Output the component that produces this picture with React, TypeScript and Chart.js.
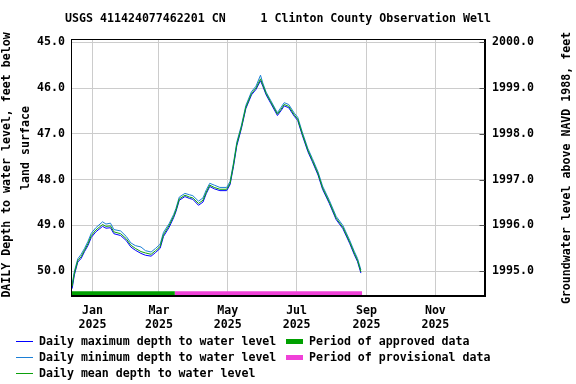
import React, { useEffect, useRef } from "react";
import { Chart, registerables } from "chart.js";

Chart.register(...registerables);

const TITLE = "USGS 411424077462201 CN     1 Clinton County Observation Well";
const LEFT_TITLE_1 = "DAILY Depth to water level, feet below";
const LEFT_TITLE_2 = "land surface";
const RIGHT_TITLE = "Groundwater level above NAVD 1988, feet";

const DATES = [
  "2024-12-14", "2024-12-16", "2024-12-19", "2024-12-22", "2024-12-25", "2024-12-28", "2024-12-31",
  "2025-01-04", "2025-01-10", "2025-01-13", "2025-01-17", "2025-01-20", "2025-01-26", "2025-01-31",
  "2025-02-04", "2025-02-08", "2025-02-13", "2025-02-17", "2025-02-22", "2025-02-26",
  "2025-03-02", "2025-03-05", "2025-03-10", "2025-03-14", "2025-03-16", "2025-03-19", "2025-03-24",
  "2025-03-28", "2025-03-31", "2025-04-05", "2025-04-09", "2025-04-12", "2025-04-15", "2025-04-19",
  "2025-04-24", "2025-04-30", "2025-05-03", "2025-05-06", "2025-05-09", "2025-05-13", "2025-05-17",
  "2025-05-22", "2025-05-26", "2025-05-30", "2025-06-01", "2025-06-04", "2025-06-08", "2025-06-14",
  "2025-06-17", "2025-06-20", "2025-06-24", "2025-06-29", "2025-07-02", "2025-07-06", "2025-07-11",
  "2025-07-15", "2025-07-20", "2025-07-24", "2025-07-30", "2025-08-05", "2025-08-11", "2025-08-17",
  "2025-08-21", "2025-08-24", "2025-08-27",
];

const MEAN_DEPTH = [
  50.33, 50.04, 49.77, 49.68, 49.54, 49.40, 49.22,
  49.10, 48.98, 49.02, 49.01, 49.14, 49.18, 49.29,
  49.43, 49.50, 49.57, 49.60, 49.63, 49.55,
  49.46, 49.20, 49.00, 48.80, 48.67, 48.42, 48.34,
  48.38, 48.40, 48.52, 48.45, 48.27, 48.12, 48.17,
  48.21, 48.21, 48.08, 47.68, 47.22, 46.86, 46.42,
  46.12, 46.00, 45.80, 45.93, 46.12, 46.30, 46.57,
  46.47, 46.36, 46.40, 46.59, 46.68, 47.00, 47.36,
  47.58, 47.87, 48.18, 48.49, 48.84, 49.04, 49.36,
  49.60, 49.76, 50.01,
];

const MAX_DEPTH = [
  50.38, 50.08, 49.80, 49.72, 49.57, 49.44, 49.26,
  49.14, 49.02, 49.06, 49.05, 49.18, 49.22, 49.33,
  49.47, 49.54, 49.61, 49.65, 49.67, 49.59,
  49.50, 49.24, 49.04, 48.83, 48.70, 48.45, 48.37,
  48.41, 48.43, 48.56, 48.49, 48.30, 48.15, 48.20,
  48.24, 48.24, 48.11, 47.72, 47.26, 46.89, 46.45,
  46.15, 46.03, 45.84, 45.96, 46.15, 46.33, 46.60,
  46.50, 46.39, 46.43, 46.62, 46.71, 47.03, 47.39,
  47.61, 47.90, 48.21, 48.52, 48.87, 49.07, 49.39,
  49.63, 49.79, 50.04,
];

const MIN_DEPTH = [
  50.28, 50.00, 49.73, 49.63, 49.50, 49.35, 49.17,
  49.05, 48.92, 48.97, 48.95, 49.09, 49.12, 49.24,
  49.38, 49.44, 49.47, 49.55, 49.58, 49.50,
  49.41, 49.15, 48.96, 48.76, 48.63, 48.38, 48.30,
  48.33, 48.35, 48.47, 48.40, 48.22, 48.08, 48.12,
  48.17, 48.17, 48.04, 47.64, 47.18, 46.82, 46.38,
  46.08, 45.96, 45.72, 45.89, 46.09, 46.27, 46.54,
  46.43, 46.32, 46.36, 46.55, 46.64, 46.96, 47.32,
  47.54, 47.83, 48.14, 48.45, 48.80, 49.00, 49.32,
  49.56, 49.72, 49.97,
];

const APPROVED_PERIOD = ["2024-12-13", "2025-03-15"];
const PROVISIONAL_PERIOD = ["2025-03-15", "2025-08-28"];
const PERIOD_DEPTH = 50.48;

const X_RANGE = ["2024-12-13", "2025-12-15"];
const X_TICK_DATES = ["2025-01-01", "2025-03-01", "2025-05-01", "2025-07-01", "2025-09-01", "2025-11-01"];
const X_TICK_LABELS = [
  ["Jan", "2025"], ["Mar", "2025"], ["May", "2025"], ["Jul", "2025"], ["Sep", "2025"], ["Nov", "2025"],
];
const DEPTH_RANGE = [44.93, 50.54];
const DEPTH_TICKS = [45, 46, 47, 48, 49, 50];
const ELEV_TICKS = [1995, 1996, 1997, 1998, 1999, 2000];
const DATUM = 2045; // elevation = DATUM - depth

const LEGEND_LINES = [
  { label: "Daily maximum depth to water level", color: "#0000ff" },
  { label: "Daily minimum depth to water level", color: "#1c7fd6" },
  { label: "Daily mean depth to water level", color: "#0ca00c" },
];
const LEGEND_PERIODS = [
  { label: "Period of approved data", color: "#00a000" },
  { label: "Period of provisional data", color: "#f041d8" },
];

const FONT = 'bold 11.6px "DejaVu Sans Mono"';
const BASE = Date.parse("2025-01-01T00:00:00Z");
const day = (s: string) => (Date.parse(s + "T00:00:00Z") - BASE) / 86400000;

const overlay = {
  id: "overlay",
  afterDraw(chart: any) {
    const { ctx, chartArea: a } = chart;
    ctx.save();
    ctx.strokeStyle = "#000";
    ctx.lineWidth = 1;
    const l = Math.round(a.left) + 0.5;
    const t = Math.round(a.top) + 0.5;
    const r = Math.round(a.right) - 0.5;
    const b = Math.round(a.bottom) - 0.5;
    ctx.strokeRect(l, t, r - l, b - t);

    // inner tick marks on right axis
    ctx.strokeStyle = "#555";
    const y2 = chart.scales.y2;
    ELEV_TICKS.forEach((v) => {
      const y = Math.round(y2.getPixelForValue(v)) + 0.5;
      ctx.beginPath();
      ctx.moveTo(r - 5, y);
      ctx.lineTo(r, y);
      ctx.stroke();
    });

    ctx.fillStyle = "#000";
    ctx.font = FONT;
    ctx.textBaseline = "middle";
    ctx.textAlign = "center";
    ctx.fillText(TITLE, (a.left + a.right) / 2, 19);

    // left axis titles
    ctx.save();
    ctx.translate(7, 165);
    ctx.rotate(-Math.PI / 2);
    ctx.fillText(LEFT_TITLE_1, 0, 0);
    ctx.restore();
    ctx.save();
    ctx.translate(26, 148);
    ctx.rotate(-Math.PI / 2);
    ctx.fillText(LEFT_TITLE_2, 0, 0);
    ctx.restore();

    // right axis title
    ctx.save();
    ctx.translate(567, 168);
    ctx.rotate(-Math.PI / 2);
    ctx.fillText(RIGHT_TITLE, 0, 0);
    ctx.restore();

    // legend
    ctx.textAlign = "left";
    const rows = [341, 357, 373];
    LEGEND_LINES.forEach((it, i) => {
      const y = rows[i] + 0.5;
      ctx.strokeStyle = it.color;
      ctx.lineWidth = 1;
      ctx.beginPath();
      ctx.moveTo(16, y);
      ctx.lineTo(33, y);
      ctx.stroke();
      ctx.fillStyle = "#000";
      ctx.fillText(it.label, 39, rows[i] + 1);
    });
    LEGEND_PERIODS.forEach((it, i) => {
      ctx.fillStyle = it.color;
      ctx.fillRect(286, rows[i] - 2, 17, 5);
      ctx.fillStyle = "#000";
      ctx.fillText(it.label, 309, rows[i] + 1);
    });
    ctx.restore();
  },
};

export default function App() {
  const ref = useRef<HTMLCanvasElement>(null);
  useEffect(() => {
    if (!ref.current) return;
    const pts = (vals: number[]) => DATES.map((d, i) => ({ x: day(d), y: vals[i] }));
    const period = (p: string[]) => p.map((d) => ({ x: day(d), y: PERIOD_DEPTH }));
    const lineDs = (label: string, data: any[], color: string, width = 1) => ({
      label,
      data,
      borderColor: color,
      backgroundColor: color,
      borderWidth: width,
      pointRadius: 0,
      tension: 0,
      fill: false,
      borderCapStyle: "butt" as const,
      yAxisID: "y",
    });
    const tickFont = { family: "DejaVu Sans Mono", size: 11.6, weight: "bold" as const };
    const chart = new Chart(ref.current, {
      type: "line",
      data: {
        datasets: [
          lineDs(LEGEND_LINES[2].label, pts(MEAN_DEPTH), LEGEND_LINES[2].color),
          lineDs(LEGEND_LINES[1].label, pts(MIN_DEPTH), LEGEND_LINES[1].color),
          lineDs(LEGEND_LINES[0].label, pts(MAX_DEPTH), LEGEND_LINES[0].color),
          lineDs(LEGEND_PERIODS[0].label, period(APPROVED_PERIOD), LEGEND_PERIODS[0].color, 4),
          lineDs(LEGEND_PERIODS[1].label, period(PROVISIONAL_PERIOD), LEGEND_PERIODS[1].color, 4),
        ] as any,
      },
      options: {
        responsive: false,
        animation: false,
        devicePixelRatio: 1,
        events: [],
        layout: { padding: { top: 39, left: 0, right: 0, bottom: 0 } },
        plugins: { legend: { display: false }, title: { display: false }, tooltip: { enabled: false } },
        scales: {
          x: {
            type: "linear",
            min: day(X_RANGE[0]),
            max: day(X_RANGE[1]),
            afterBuildTicks: (s: any) => {
              s.ticks = X_TICK_DATES.map((d) => ({ value: day(d) }));
            },
            afterFit: (s: any) => {
              s.height = 88;
            },
            ticks: {
              autoSkip: false,
              maxRotation: 0,
              padding: 8,
              color: "#000",
              font: tickFont,
              callback: (v: any) => {
                const i = X_TICK_DATES.findIndex((d) => day(d) === v);
                return i >= 0 ? X_TICK_LABELS[i] : "";
              },
            },
            grid: { color: "#cccccc", drawTicks: false },
            border: { color: "#000" },
          },
          y: {
            type: "linear",
            position: "left",
            reverse: true,
            min: DEPTH_RANGE[0],
            max: DEPTH_RANGE[1],
            afterBuildTicks: (s: any) => {
              s.ticks = DEPTH_TICKS.map((v) => ({ value: v }));
            },
            afterFit: (s: any) => {
              s.width = 71;
            },
            ticks: {
              padding: 6,
              color: "#000",
              font: tickFont,
              callback: (v: any) => Number(v).toFixed(1),
            },
            grid: { color: "#cccccc", drawTicks: false },
            border: { color: "#000" },
          },
          y2: {
            type: "linear",
            position: "right",
            min: DATUM - DEPTH_RANGE[1],
            max: DATUM - DEPTH_RANGE[0],
            afterBuildTicks: (s: any) => {
              s.ticks = ELEV_TICKS.map((v) => ({ value: v }));
            },
            afterFit: (s: any) => {
              s.width = 91;
            },
            ticks: {
              padding: 7,
              color: "#000",
              font: tickFont,
              callback: (v: any) => Number(v).toFixed(1),
            },
            grid: { drawOnChartArea: false, drawTicks: false },
            border: { color: "#000" },
          },
        },
      } as any,
      plugins: [overlay],
    });
    return () => chart.destroy();
  }, []);
  return (
    <div style={{ position: "fixed", left: 0, top: 0, width: 576, height: 384, background: "#fff" }}>
      <canvas ref={ref} width={576} height={384} style={{ display: "block" }} />
    </div>
  );
}
